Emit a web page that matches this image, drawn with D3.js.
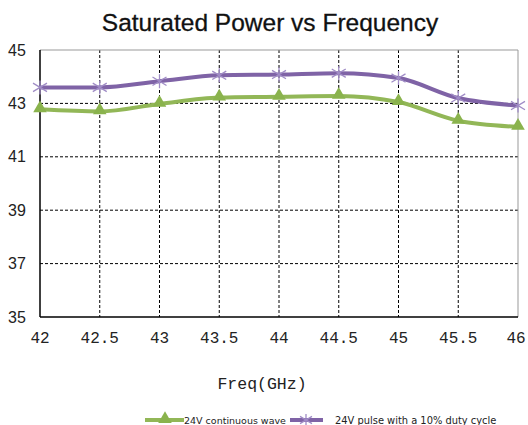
<!DOCTYPE html>
<html><head><meta charset="utf-8">
<script src="https://cdn.jsdelivr.net/npm/d3@7/dist/d3.min.js"></script>
<style>body{margin:0;background:#fff}svg{display:block}</style>
</head><body>
<svg id="c" width="528" height="425"></svg>
<script>
const freqs = [42, 42.5, 43, 43.5, 44, 44.5, 45, 45.5, 46];
const xTickLabels = ["42", "42.5", "43", "43.5", "44", "44.5", "45", "45.5", "46"];
const yTicks = [35, 37, 39, 41, 43, 45];
const continuousWave = [42.78, 42.70, 42.98, 43.22, 43.25, 43.28, 43.05, 42.35, 42.12];
const pulse10 = [43.60, 43.60, 43.83, 44.05, 44.08, 44.13, 43.95, 43.20, 42.92];
const seriesNames = ["24V continuous wave", "24V pulse with a 10% duty cycle"];

const svg = d3.select("#c");
const L = 40, R = 518, T = 50, B = 317;
const x = d3.scaleLinear().domain([42, 46]).range([L, R]);
const y = d3.scaleLinear().domain([35, 45]).range([B, T]);

// title
svg.append("text").attr("x", 270).attr("y", 31).attr("text-anchor", "middle")
  .attr("font-family", "Liberation Sans, Arial, sans-serif").attr("font-size", 24.5)
  .attr("fill", "#111").attr("stroke", "#111").attr("stroke-width", 0.3)
  .text("Saturated Power vs Frequency");

// grid
const g = svg.append("g");
g.selectAll("line.h").data(yTicks.filter(v => v > 35 && v < 45)).join("line")
  .attr("x1", L).attr("x2", R).attr("y1", d => y(d)).attr("y2", d => y(d))
  .attr("stroke", "#000").attr("stroke-width", 1).attr("stroke-dasharray", "3,2");
g.selectAll("line.v").data(freqs.filter(v => v > 42 && v < 46)).join("line")
  .attr("x1", d => x(d)).attr("x2", d => x(d)).attr("y1", T).attr("y2", B)
  .attr("stroke", "#000").attr("stroke-width", 1).attr("stroke-dasharray", "3,2");
// borders
g.append("line").attr("x1", L).attr("x2", R).attr("y1", T).attr("y2", T).attr("stroke", "#999");
g.append("line").attr("x1", R).attr("x2", R).attr("y1", T).attr("y2", B).attr("stroke", "#999");
g.append("line").attr("x1", L).attr("x2", L).attr("y1", T).attr("y2", B).attr("stroke", "#000").attr("stroke-width", 1.5);
g.append("line").attr("x1", L).attr("x2", R).attr("y1", B).attr("y2", B).attr("stroke", "#000").attr("stroke-width", 1.5);

// y labels
svg.selectAll("text.yl").data(yTicks).join("text")
  .attr("x", 17).attr("y", d => y(d) + 5.5).attr("text-anchor", "middle")
  .attr("font-family", "Liberation Sans, Arial, sans-serif").attr("font-size", 16)
  .attr("fill", "#222").text(d => d);
// x labels
svg.selectAll("text.xl").data(freqs).join("text")
  .attr("x", (d, i) => x(d) + (i === freqs.length - 1 ? -2 : 0)).attr("y", 343).attr("text-anchor", "middle")
  .attr("font-family", "Liberation Mono, DejaVu Sans Mono, monospace").attr("font-size", 16)
  .attr("fill", "#222").text((d, i) => xTickLabels[i]);
svg.append("text").attr("x", 262).attr("y", 389).attr("text-anchor", "middle")
  .attr("font-family", "Liberation Mono, DejaVu Sans Mono, monospace").attr("font-size", 16.5)
  .attr("fill", "#222").text("Freq(GHz)");

const colors = ["#92b757", "#7f63a6"];
const markColors = ["#8ab34d", "#a08cc6"];
const line = d3.line().x((d, i) => x(freqs[i])).y(d => y(d)).curve(d3.curveMonotoneX);
const data = [continuousWave, pulse10];
data.forEach((s, k) => {
  svg.append("path").attr("d", line(s)).attr("fill", "none")
    .attr("stroke", colors[k]).attr("stroke-width", 4);
});
const tri = d3.symbol().type(d3.symbolTriangle).size(80);
function star(gg, cx, cy, r, col) {
  [[-r, -r * 0.6, r, r * 0.6], [-r, r * 0.6, r, -r * 0.6], [0, -r, 0, r]].forEach(p => {
    gg.append("line").attr("x1", cx + p[0]).attr("y1", cy + p[1]).attr("x2", cx + p[2]).attr("y2", cy + p[3])
      .attr("stroke", col).attr("stroke-width", 1.3);
  });
}
continuousWave.forEach((v, i) => {
  svg.append("path").attr("d", tri).attr("transform", `translate(${x(freqs[i])},${y(v) - 1})`)
    .attr("fill", markColors[0]);
});
pulse10.forEach((v, i) => {
  star(svg, x(freqs[i]), y(v), 7, markColors[1]);
});

// legend
const ly = 420;
svg.append("line").attr("x1", 145).attr("x2", 184).attr("y1", ly).attr("y2", ly).attr("stroke", colors[0]).attr("stroke-width", 4);
svg.append("path").attr("d", tri).attr("transform", `translate(165,${ly - 1})`).attr("fill", markColors[0]);
svg.append("text").attr("x", 184).attr("y", ly + 3.5).attr("font-family", "DejaVu Sans, Verdana, sans-serif")
  .attr("font-size", 9.5).attr("fill", "#222").text(seriesNames[0]);
svg.append("line").attr("x1", 290).attr("x2", 323).attr("y1", ly).attr("y2", ly).attr("stroke", colors[1]).attr("stroke-width", 4);
star(svg, 306, ly, 6, markColors[1]);
svg.append("text").attr("x", 335).attr("y", ly + 3.5).attr("font-family", "DejaVu Sans, Verdana, sans-serif")
  .attr("font-size", 9.9).attr("fill", "#222").text(seriesNames[1]);
</script>
</body></html>
